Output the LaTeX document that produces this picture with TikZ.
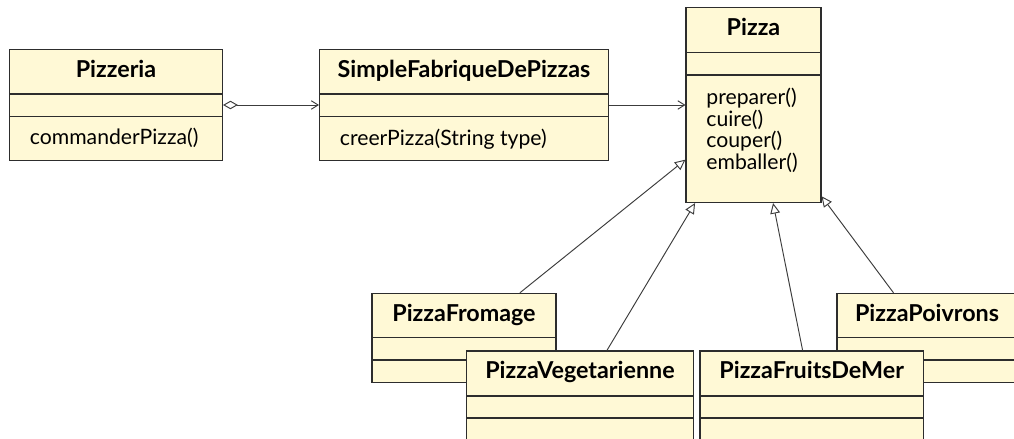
\documentclass[tikz,border=0pt]{standalone}
\usepackage{fontspec}
\setsansfont{Lato}
\usetikzlibrary{arrows.meta,fit}

\definecolor{classfill}{RGB}{255,249,214}
\definecolor{classdraw}{RGB}{45,45,45}
\definecolor{linkdraw}{RGB}{60,60,60}

\tikzset{
  x=0.472pt, y=-0.472pt,
  every node/.style={font=\sffamily\fontsize{10}{10}\selectfont},
  classframe/.style={draw=classdraw, fill=classfill, line width=0.5pt, inner sep=0pt},
  classline/.style={draw=classdraw, line width=0.5pt},
  classtitle/.style={anchor=base, inner sep=0pt, font=\sffamily\bfseries\fontsize{11}{11}\selectfont},
  classop/.style={anchor=base west, inner sep=0pt},
  link/.style={draw=linkdraw, line width=0.45pt},
  aggr/.style={link, {Diamond[open, length=7pt, width=4pt]}-{Straight Barb[length=3.2pt, width=4pt]}},
  assoc/.style={link, -{Straight Barb[length=3.2pt, width=4pt]}},
  inherit/.style={link, -{Triangle[open, length=5pt, width=4.6pt]}},
}

% #1 name, #2 left, #3 top, #4 right, #5 bottom, #6 first rule, #7 second rule, #8 class name
\newcommand\drawclass[8]{%
  \node[classframe, fit={(#2,#3) (#4,#5)}] (#1) {};
  \draw[classline] (#2,#6) -- (#4,#6) (#2,#7) -- (#4,#7);
  \node[classtitle] at ({(#2+#4)/2},#3+28) {#8};
}

\begin{document}
\begin{tikzpicture}
\useasboundingbox (0,0) rectangle (1014,439);

% top row
\drawclass{pizzeria}{9.5}{49.5}{222.5}{160.5}{94}{116.7}{Pizzeria}
\node[classop] at (29.5,145) {commanderPizza()};

\drawclass{fabrique}{319.5}{49.5}{608.5}{160.5}{94}{116.7}{SimpleFabriqueDePizzas}
\node[classop] at (339.5,145.5) {creerPizza(String type)};

\drawclass{pizza}{686}{7.5}{821}{202.5}{52.3}{75}{Pizza}
\node[classop] at (706,105) {preparer()};
\node[classop] at (706,126.5) {cuire()};
\node[classop] at (706,148) {couper()};
\node[classop] at (706,169.5) {emballer()};

% concrete pizzas, back row first
\drawclass{fromage}{372}{293.3}{556}{382.3}{337.7}{360}{PizzaFromage}
\drawclass{poivrons}{837}{293.3}{1017}{382.3}{337.7}{360}{PizzaPoivrons}
\drawclass{vegetarienne}{466.7}{351}{693.3}{440}{396}{418}{PizzaVegetarienne}
\drawclass{fruits}{700}{351}{923.3}{440}{396}{418}{PizzaFruitsDeMer}

% relations
\draw[aggr] (pizzeria) -- (fabrique);
\draw[assoc] (fabrique) -- (pizza);
\draw[inherit] (fromage) -- (pizza);
\draw[inherit] (vegetarienne) -- (pizza);
\draw[inherit] (fruits) -- (pizza);
\draw[inherit] (poivrons) -- (pizza);
\end{tikzpicture}
\end{document}
